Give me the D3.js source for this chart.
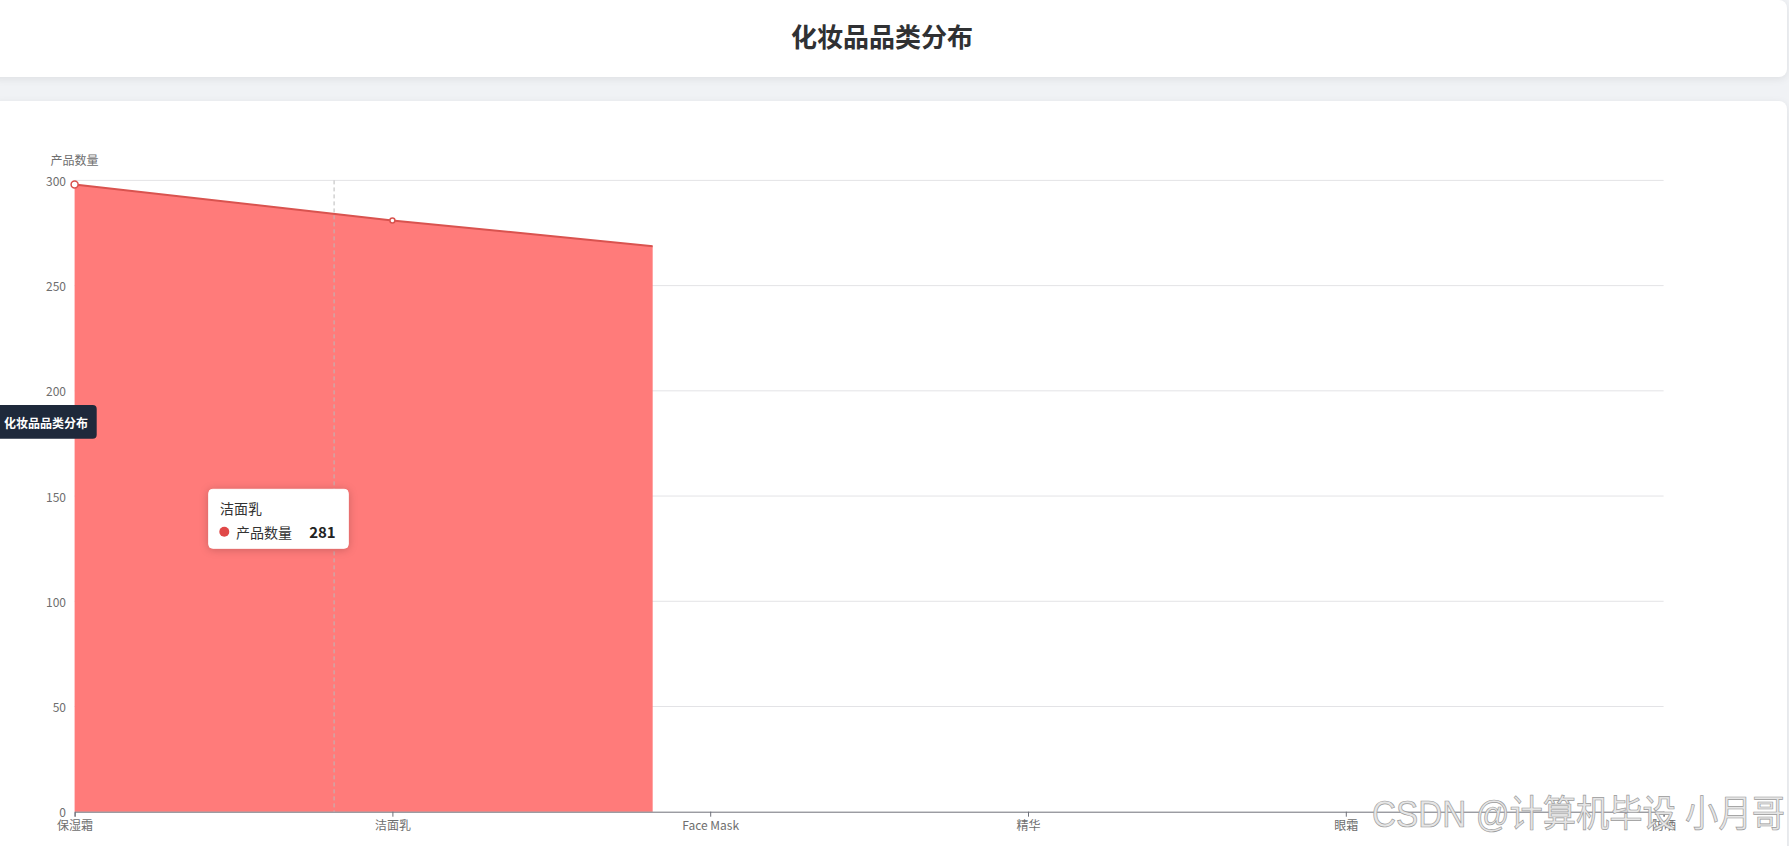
<!DOCTYPE html>
<html>
<head>
<meta charset="utf-8">
<script src="https://cdn.jsdelivr.net/npm/d3@7/dist/d3.min.js"></script>
<style>
  html, body { margin: 0; padding: 0; }
  body {
    width: 1789px; height: 846px; overflow: hidden;
    background: #f0f2f5;
    font-family: "Noto Sans CJK SC", "Noto Sans", sans-serif;
    position: relative;
  }
  .card {
    position: absolute; background: #fff; border-radius: 8px;
    box-shadow: 0 2px 8px rgba(0,0,0,0.08);
  }
  #head { left: -10px; top: 0; width: 1797px; height: 77px; }
  #body { left: -10px; top: 101px; width: 1797px; height: 800px; }
  svg { position: absolute; left: 0; top: 0; }
</style>
</head>
<body>
<div class="card" id="head"></div>
<div class="card" id="body"></div>
<svg id="chart" width="1789" height="846"></svg>
<script>
// data
var categories = ["保湿霜", "洁面乳", "Face Mask", "精华", "眼霜", "防晒"];
var counts = [298, 281, 266];          // visible part of the series
var yTicks = [0, 50, 100, 150, 200, 250, 300];
var seriesName = "产品数量";
var chartTitle = "化妆品品类分布";
var hovered = 1;                       // tooltip shows 洁面乳
var reveal = 0.3638;                   // line/area still animating in
var pointerAt = 0.1633;                // dashed axis pointer position

var svg = d3.select("#chart");

// header title
svg.append("text")
  .attr("x", 882).attr("y", 35)
  .attr("text-anchor", "middle").attr("dominant-baseline", "central")
  .style("font-size", "26px").style("font-weight", "bold").style("fill", "#303133")
  .text(chartTitle);

var x = d3.scalePoint().domain(categories).range([74.6, 1663.6]);
var y = d3.scaleLinear().domain([0, 300]).range([811.7, 180.4]);

var g = svg.append("g");

// gridlines
g.selectAll("line.grid").data(yTicks.filter(function (d) { return d > 0; }))
  .enter().append("line").attr("class", "grid")
  .attr("x1", x.range()[0]).attr("x2", x.range()[1])
  .attr("y1", function (d) { return y(d); }).attr("y2", function (d) { return y(d); })
  .style("stroke", "#e3e3e6").style("stroke-width", 1);

// y labels
g.selectAll("text.ylab").data(yTicks).enter().append("text")
  .attr("x", 66).attr("y", function (d) { return y(d); })
  .attr("text-anchor", "end").attr("dominant-baseline", "central")
  .style("font-size", "12px").style("fill", "#6e6e6e")
  .text(function (d) { return d; });

// y axis name
g.append("text")
  .attr("x", x.range()[0]).attr("y", 159)
  .attr("text-anchor", "middle").attr("dominant-baseline", "central")
  .style("font-size", "12px").style("fill", "#6e6e6e")
  .text(seriesName);

// area + line clipped by the reveal animation
var x0 = x.range()[0], x1 = x.range()[1];
svg.append("defs").append("clipPath").attr("id", "reveal")
  .append("rect")
  .attr("x", x0 - 10).attr("y", 0)
  .attr("width", 10 + (x1 - x0) * reveal).attr("height", 846);

var pts = counts.map(function (v, i) { return [x(categories[i]), y(v)]; });

var area = d3.area().x(function (d) { return d[0]; }).y0(y(0)).y1(function (d) { return d[1]; });
var line = d3.line().x(function (d) { return d[0]; }).y(function (d) { return d[1]; });

var cg = g.append("g").attr("clip-path", "url(#reveal)");
cg.append("path").attr("d", area(pts))
  .style("fill", "#ff7b7a");
cg.append("path").attr("d", line(pts))
  .style("fill", "none").style("stroke", "#d9534f").style("stroke-width", 2);

// x axis
var xAxis = d3.axisBottom(x).tickSize(5).tickPadding(5);
var ax = g.append("g").attr("transform", "translate(0," + y(0) + ")").call(xAxis);
ax.select(".domain").style("stroke", "#6e7079");
ax.selectAll(".tick line").style("stroke", "#6e7079");
ax.selectAll(".tick text").style("font-size", "12px").style("fill", "#6e6e6e")
  .style("font-family", "'Noto Sans CJK SC', sans-serif");

// axis pointer
g.append("line")
  .attr("x1", x0 + (x1 - x0) * pointerAt).attr("x2", x0 + (x1 - x0) * pointerAt)
  .attr("y1", y(300)).attr("y2", y(0))
  .style("stroke", "#bbb").style("stroke-width", 1).style("stroke-dasharray", "4,3");

// symbols
cg.selectAll("circle.pt").data(pts.slice(0, 2)).enter().append("circle")
  .attr("cx", function (d) { return d[0]; }).attr("cy", function (d) { return d[1]; })
  .attr("r", function (d, i) { return i === 0 ? 3.5 : 2.5; })
  .style("fill", "#fff").style("stroke", "#d9534f").style("stroke-width", 1.5);

// dark side label
var lab = svg.append("g");
lab.append("rect").attr("x", -8).attr("y", 405).attr("width", 104.7).attr("height", 33.7)
  .attr("rx", 4).style("fill", "#1e293b");
lab.append("text").attr("x", 4).attr("y", 422)
  .attr("dominant-baseline", "central")
  .style("font-size", "12px").style("font-weight", "bold").style("fill", "#fff")
  .text(chartTitle);

// tooltip
var tip = svg.append("g").attr("transform", "translate(208.7,489.3)");
tip.append("rect").attr("width", 139.6).attr("height", 59).attr("rx", 4)
  .style("fill", "#fff").style("stroke", "#fff")
  .style("filter", "drop-shadow(0 1px 4px rgba(0,0,0,0.2))");
tip.append("text").attr("x", 11.3).attr("y", 18.4).attr("dominant-baseline", "central")
  .style("font-size", "14px").style("fill", "#333").text(categories[hovered]);
tip.append("circle").attr("cx", 15.6).attr("cy", 42.4).attr("r", 5).style("fill", "#e04848");
tip.append("text").attr("x", 27.3).attr("y", 42.4).attr("dominant-baseline", "central")
  .style("font-size", "14px").style("fill", "#333").text(seriesName);
tip.append("text").attr("x", 127).attr("y", 42.4).attr("dominant-baseline", "central")
  .attr("text-anchor", "end")
  .style("font-size", "15px").style("font-weight", "bold").style("fill", "#222")
  .text(counts[hovered]);

// watermark
svg.append("text").attr("x", 1785).attr("y", 814)
  .attr("text-anchor", "end").attr("dominant-baseline", "central")
  .attr("transform", "translate(1785,0) scale(0.9,1) translate(-1785,0)")
  .style("font-size", "37px").style("fill", "#e6e6e6")
  .style("stroke", "#9a9a9a").style("stroke-width", 0.7)
  .style("font-family", "'Liberation Sans', 'Noto Sans CJK SC', sans-serif")
  .text("CSDN @计算机毕设 小月哥");
</script>
</body>
</html>
